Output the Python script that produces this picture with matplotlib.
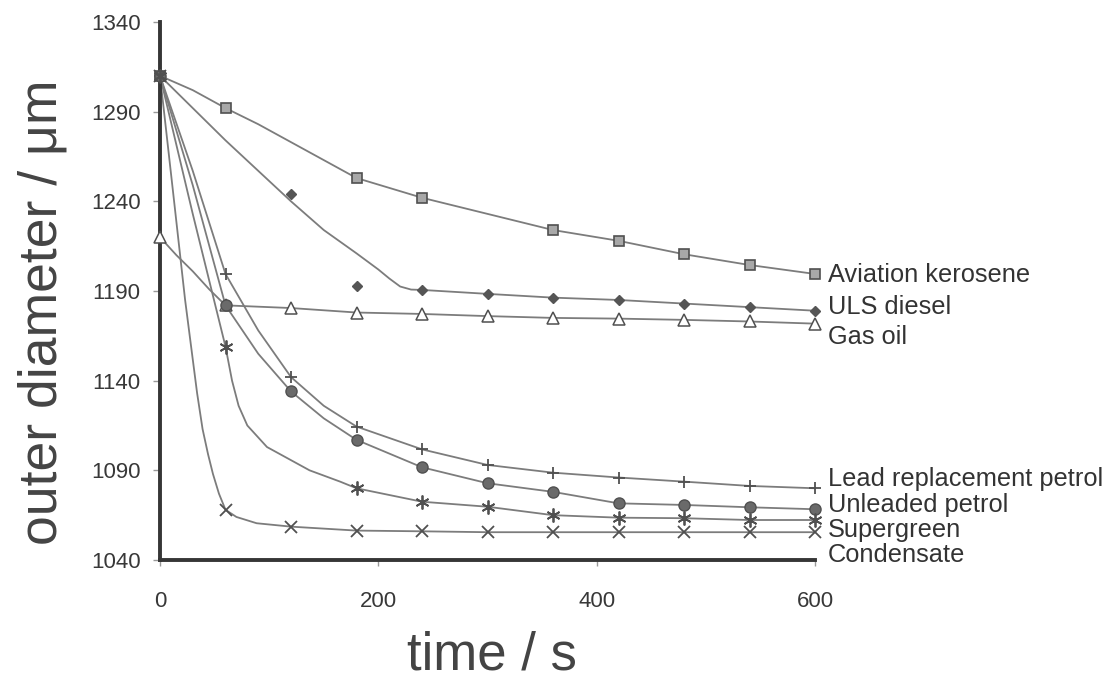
import matplotlib.pyplot as plt

plt.rcParams["font.family"] = ["Liberation Sans", "DejaVu Sans"]

# sample times (markers)
t_all = [0, 60, 120, 180, 240, 300, 360, 420, 480, 540, 600]

# Aviation kerosene
avk_line_t = [0, 30, 60, 90, 120, 150, 180, 240, 300, 360, 420, 480, 540, 600]
avk_line_v = [1310, 1302, 1292, 1283, 1273, 1263, 1253, 1242, 1233, 1224, 1218, 1210.5,
              1204.5, 1199.5]
avk_mark_t = [0, 60, 180, 240, 360, 420, 480, 540, 600]
avk_mark_v = [1310, 1292, 1253, 1242, 1224, 1218, 1210.5, 1204.5, 1199.5]

# ULS diesel
uls_line_t = [0, 30, 60, 90, 120, 150, 180, 200, 210, 220, 230, 240, 300, 360, 420, 480,
              540, 600]
uls_line_v = [1310, 1292, 1274, 1257, 1240, 1224, 1211, 1202, 1197, 1192.5, 1190.8, 1190.6,
              1188.4, 1186.3, 1185, 1183, 1181, 1179]
uls_mark_t = [0, 120, 180, 240, 300, 360, 420, 480, 540, 600]
uls_mark_v = [1310, 1244, 1193, 1190.6, 1188.4, 1186.3, 1185, 1183, 1181, 1179]

# Gas oil
gas_line_t = [0, 15, 30, 45, 60, 120, 180, 240, 300, 360, 420, 480, 540, 600]
gas_line_v = [1220, 1210, 1201, 1191, 1182, 1180.5, 1178, 1177.2, 1176, 1175, 1174.6,
              1173.9, 1173, 1171.8]
gas_mark_t = [0, 60, 120, 180, 240, 300, 360, 420, 480, 540, 600]
gas_mark_v = [1220, 1182, 1180.5, 1178, 1177.2, 1176, 1175, 1174.6, 1173.9, 1173, 1171.8]

# Lead replacement petrol
lrp_line_t = [0, 30, 60, 90, 120, 150, 180, 240, 300, 360, 420, 480, 540, 600]
lrp_line_v = [1310, 1257, 1199.5, 1168, 1142, 1126, 1114.4, 1101.7, 1093, 1088.7, 1086,
              1083.7, 1081.3, 1080]
lrp_mark_v = [1310, 1199.5, 1142, 1114.4, 1101.7, 1093, 1088.7, 1086, 1083.7, 1081.3, 1080]

# Unleaded petrol
ulp_line_t = [0, 30, 60, 90, 120, 150, 180, 240, 300, 360, 420, 480, 540, 600]
ulp_line_v = [1310, 1249, 1182, 1155, 1134, 1119, 1107, 1091.7, 1082.8, 1078, 1071.6,
              1070.7, 1069.4, 1068.3]
ulp_mark_v = [1310, 1182, 1134, 1107, 1091.7, 1082.8, 1078, 1071.6, 1070.7, 1069.4, 1068.3]

# Supergreen
sg_line_t = [0, 30, 60, 66, 72, 80, 89, 98, 119, 137, 165, 180, 240, 300, 360, 420, 480,
             540, 600]
sg_line_v = [1310, 1233, 1159, 1140, 1126, 1115, 1109, 1103, 1096, 1090, 1083.7, 1080,
             1072.5, 1069.7, 1065, 1063.6, 1063.3, 1062.3, 1062.3]
sg_mark_t = [0, 60, 180, 240, 300, 360, 420, 480, 540, 600]
sg_mark_v = [1310, 1159, 1080, 1072.5, 1069.7, 1065, 1063.6, 1063.3, 1062.3, 1062.3]

# Condensate
con_line_t = [0, 12, 23, 34, 39, 44, 48.5, 54, 60, 70, 88.5, 120, 180, 240, 300, 360, 420,
              480, 540, 600]
con_line_v = [1310, 1245, 1185, 1133, 1113, 1099, 1088, 1077, 1068, 1064, 1060.5, 1058.6,
              1056.4, 1056, 1055.5, 1055.5, 1055.5, 1055.5, 1055.5, 1055.5]
con_mark_v = [1310, 1068, 1058.6, 1056.4, 1056, 1055.5, 1055.5, 1055.5, 1055.5, 1055.5, 1055.5]

names = ["Aviation kerosene", "ULS diesel", "Gas oil", "Lead replacement petrol",
         "Unleaded petrol", "Supergreen", "Condensate"]

W, H = 1114, 678
fig = plt.figure(figsize=(W / 100, H / 100), dpi=100)
ax = fig.add_axes([160 / W, 1 - 560 / H, (815 - 160) / W, (560 - 22) / H])

line_c = "#7c7c7c"
lines = [(avk_line_t, avk_line_v), (uls_line_t, uls_line_v), (gas_line_t, gas_line_v),
         (lrp_line_t, lrp_line_v), (ulp_line_t, ulp_line_v), (sg_line_t, sg_line_v),
         (con_line_t, con_line_v)]
for lt, lv in lines:
    ax.plot(lt, lv, color=line_c, lw=1.3, zorder=2, clip_on=False, solid_joinstyle="round")

kw = dict(linestyle="none", zorder=3, clip_on=False)
ax.plot(avk_mark_t, avk_mark_v, marker="s", ms=7, mfc="#a8a8a8", mec="#505050", mew=1.2, **kw)
ax.plot(uls_mark_t, uls_mark_v, marker="D", ms=5, mfc="#555555", mec="#555555", **kw)
ax.plot(gas_mark_t, gas_mark_v, marker="^", ms=8, mfc="white", mec="#505050", mew=1.1, **kw)
ax.plot(t_all, lrp_mark_v, marker="+", ms=9, mec="#505050", mew=1.3, **kw)
ax.plot(t_all, ulp_mark_v, marker="o", ms=8, mfc="#6a6a6a", mec="#505050", mew=1.0, **kw)
ax.plot(sg_mark_t, sg_mark_v, marker=(6, 2, 0), ms=10, mec="#505050", mew=1.3, **kw)
ax.plot(t_all, con_mark_v, marker="x", ms=8, mec="#505050", mew=1.3, **kw)

ax.set_xlim(0, 600)
ax.set_ylim(1040, 1340)
ax.set_xticks([0, 200, 400, 600])
ax.set_yticks(range(1040, 1341, 50))
for s in ["top", "right"]:
    ax.spines[s].set_visible(False)
for s in ["left", "bottom"]:
    ax.spines[s].set_linewidth(2.8)
    ax.spines[s].set_color("#363636")
ax.tick_params(axis="y", direction="out", length=5, width=1, color="#999999",
               labelsize=16, labelcolor="#383838", pad=9)
ax.tick_params(axis="x", direction="out", length=4, width=1, color="#999999",
               labelsize=16, labelcolor="#383838", pad=18)

# series labels at right end
label_base = [282, 314, 344, 486, 512, 537, 562]
for name, yb in zip(names, label_base):
    fig.text(828 / W, 1 - yb / H, name, fontsize=18.3, color="#333333",
             ha="left", va="baseline")

fig.text(43 / W, 1 - 312 / H, "outer diameter / \u03bcm", fontsize=38.5, color="#444444",
         rotation=90, ha="center", va="center")
fig.text(492 / W, 1 - 655 / H, "time / s", fontsize=38, color="#444444",
         ha="center", va="center")

fig.savefig("out.png", dpi=100, facecolor="white")
